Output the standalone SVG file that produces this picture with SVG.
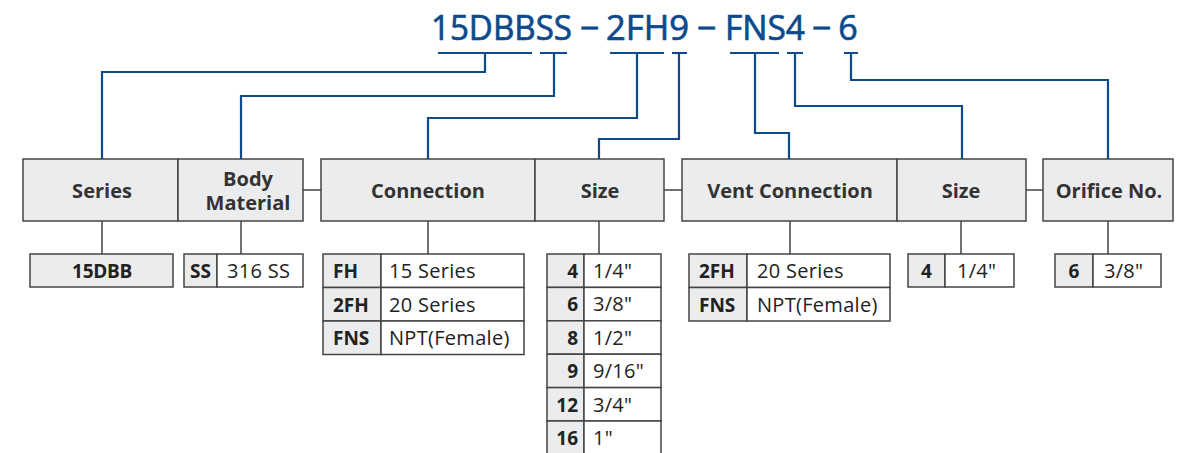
<svg xmlns="http://www.w3.org/2000/svg" width="1179" height="453" viewBox="0 0 1179 453">
<style>
.code{font-family:"Open Sans","Noto Sans",sans-serif;font-size:34px;fill:#0c4a8c;stroke:#0c4a8c;stroke-width:0.7px}
.hdr{font-family:"Open Sans","Noto Sans",sans-serif;font-size:20px;font-weight:700;fill:#333;text-anchor:middle}
.box{fill:#ebecee;stroke:#444;stroke-width:1.5}
.key{fill:#ebecee;stroke:#444;stroke-width:1.5}
.val{fill:#fff;stroke:#444;stroke-width:1.5}
.k{font-family:"Open Sans","Noto Sans",sans-serif;font-size:19px;font-weight:700;fill:#222}
.v{font-family:"Open Sans","Noto Sans",sans-serif;font-size:20px;letter-spacing:0.3px;fill:#222}
.blue{fill:none;stroke:#0c4a8c;stroke-width:2.2}
.grey{fill:none;stroke:#444;stroke-width:1.5}
</style>
<g id="code">
<text class="code" x="431" y="40" textLength="141" lengthAdjust="spacingAndGlyphs">15DBBSS</text>
<text class="code" x="589.5" y="40" text-anchor="middle">−</text>
<text class="code" x="606" y="40" textLength="83" lengthAdjust="spacingAndGlyphs">2FH9</text>
<text class="code" x="706.5" y="40" text-anchor="middle">−</text>
<text class="code" x="725" y="40" textLength="80" lengthAdjust="spacingAndGlyphs">FNS4</text>
<text class="code" x="821.5" y="40" text-anchor="middle">−</text>
<text class="code" x="848" y="40" text-anchor="middle">6</text>
</g>
<g id="connectors">
<path class="blue" d="M438,53H532M485,53V72H102V159"/>
<path class="blue" d="M540,53H567M554,53V96H241V159"/>
<path class="blue" d="M610,53H664M637,53V118H428V159"/>
<path class="blue" d="M672,53H687M679,53V139H599V159"/>
<path class="blue" d="M730,53H779M755,53V133H789V159"/>
<path class="blue" d="M787,53H803M795,53V106H962V159"/>
<path class="blue" d="M844,53H858M851,53V80H1108V159"/>
<path class="grey" d="M102,221V254M241,221V254M428,221V254M599,221V254M790,221V254M961,221V254M1108,221V254"/>
<path class="grey" d="M303,190H321M664,190H682M1026,190H1043"/>
</g>
<g id="series">
<rect class="box" x="23" y="159" width="155" height="62"/>
<text class="hdr" x="102" y="198">Series</text>
</g>
<g id="body-material">
<rect class="box" x="178" y="159" width="125" height="62"/>
<text class="hdr" x="248" y="186">Body</text>
<text class="hdr" x="248" y="210">Material</text>
</g>
<g id="connection">
<rect class="box" x="321" y="159" width="214" height="62"/>
<text class="hdr" x="428" y="198">Connection</text>
</g>
<g id="size">
<rect class="box" x="535" y="159" width="129" height="62"/>
<text class="hdr" x="600" y="198">Size</text>
</g>
<g id="vent-connection">
<rect class="box" x="682" y="159" width="215" height="62"/>
<text class="hdr" x="790" y="198">Vent Connection</text>
</g>
<g id="vent-size">
<rect class="box" x="897" y="159" width="129" height="62"/>
<text class="hdr" x="961" y="198">Size</text>
</g>
<g id="orifice">
<rect class="box" x="1043" y="159" width="130" height="62"/>
<text class="hdr" x="1109" y="198">Orifice No.</text>
</g>
<g id="series-table">
<rect class="key" x="30" y="254" width="143" height="33"/>
<text class="k" x="102" y="278" text-anchor="middle" font-size="17.5" letter-spacing="-0.3">15DBB</text>
</g>
<g id="material-table">
<rect class="key" x="184" y="254" width="33" height="33"/>
<rect class="val" x="217" y="254" width="86" height="33"/>
<text class="k" x="200.5" y="278" text-anchor="middle">SS</text>
<text class="v" x="227" y="278">316 SS</text>
</g>
<g id="connection-table">
<rect class="key" x="323" y="254" width="58" height="33.5"/>
<rect class="val" x="381" y="254" width="143" height="33.5"/>
<rect class="key" x="323" y="287.5" width="58" height="33.5"/>
<rect class="val" x="381" y="287.5" width="143" height="33.5"/>
<rect class="key" x="323" y="321" width="58" height="33.5"/>
<rect class="val" x="381" y="321" width="143" height="33.5"/>
<text class="k" x="333" y="278">FH</text><text class="v" x="389" y="278">15 Series</text>
<text class="k" x="333" y="311.5">2FH</text><text class="v" x="389" y="311.5">20 Series</text>
<text class="k" x="333" y="345">FNS</text><text class="v" x="389" y="345">NPT(Female)</text>
</g>
<g id="size-table">
<rect class="key" x="547" y="254" width="37" height="33.4"/><rect class="val" x="584" y="254" width="77" height="33.4"/>
<rect class="key" x="547" y="287.4" width="37" height="33.4"/><rect class="val" x="584" y="287.4" width="77" height="33.4"/>
<rect class="key" x="547" y="320.8" width="37" height="33.4"/><rect class="val" x="584" y="320.8" width="77" height="33.4"/>
<rect class="key" x="547" y="354.2" width="37" height="33.4"/><rect class="val" x="584" y="354.2" width="77" height="33.4"/>
<rect class="key" x="547" y="387.6" width="37" height="33.4"/><rect class="val" x="584" y="387.6" width="77" height="33.4"/>
<rect class="key" x="547" y="421" width="37" height="33.4"/><rect class="val" x="584" y="421" width="77" height="33.4"/>
<text class="k" x="578" y="278" text-anchor="end">4</text><text class="v" x="593" y="278">1/4"</text>
<text class="k" x="578" y="311.4" text-anchor="end">6</text><text class="v" x="593" y="311.4">3/8"</text>
<text class="k" x="578" y="344.8" text-anchor="end">8</text><text class="v" x="593" y="344.8">1/2"</text>
<text class="k" x="578" y="378.2" text-anchor="end">9</text><text class="v" x="593" y="378.2">9/16"</text>
<text class="k" x="578" y="411.6" text-anchor="end">12</text><text class="v" x="593" y="411.6">3/4"</text>
<text class="k" x="578" y="445" text-anchor="end">16</text><text class="v" x="593" y="445">1"</text>
</g>
<g id="vent-table">
<rect class="key" x="689" y="254" width="58" height="33.5"/>
<rect class="val" x="747" y="254" width="143" height="33.5"/>
<rect class="key" x="689" y="287.5" width="58" height="33.5"/>
<rect class="val" x="747" y="287.5" width="143" height="33.5"/>
<text class="k" x="699" y="278">2FH</text><text class="v" x="757" y="278">20 Series</text>
<text class="k" x="699" y="311.5">FNS</text><text class="v" x="757" y="311.5">NPT(Female)</text>
</g>
<g id="vent-size-table">
<rect class="key" x="908" y="254" width="37" height="33"/>
<rect class="val" x="945" y="254" width="69" height="33"/>
<text class="k" x="926.5" y="278" text-anchor="middle">4</text><text class="v" x="957" y="278">1/4"</text>
</g>
<g id="orifice-table">
<rect class="key" x="1055" y="254" width="38" height="33"/>
<rect class="val" x="1093" y="254" width="68" height="33"/>
<text class="k" x="1074" y="278" text-anchor="middle">6</text><text class="v" x="1104" y="278">3/8"</text>
</g>
</svg>
